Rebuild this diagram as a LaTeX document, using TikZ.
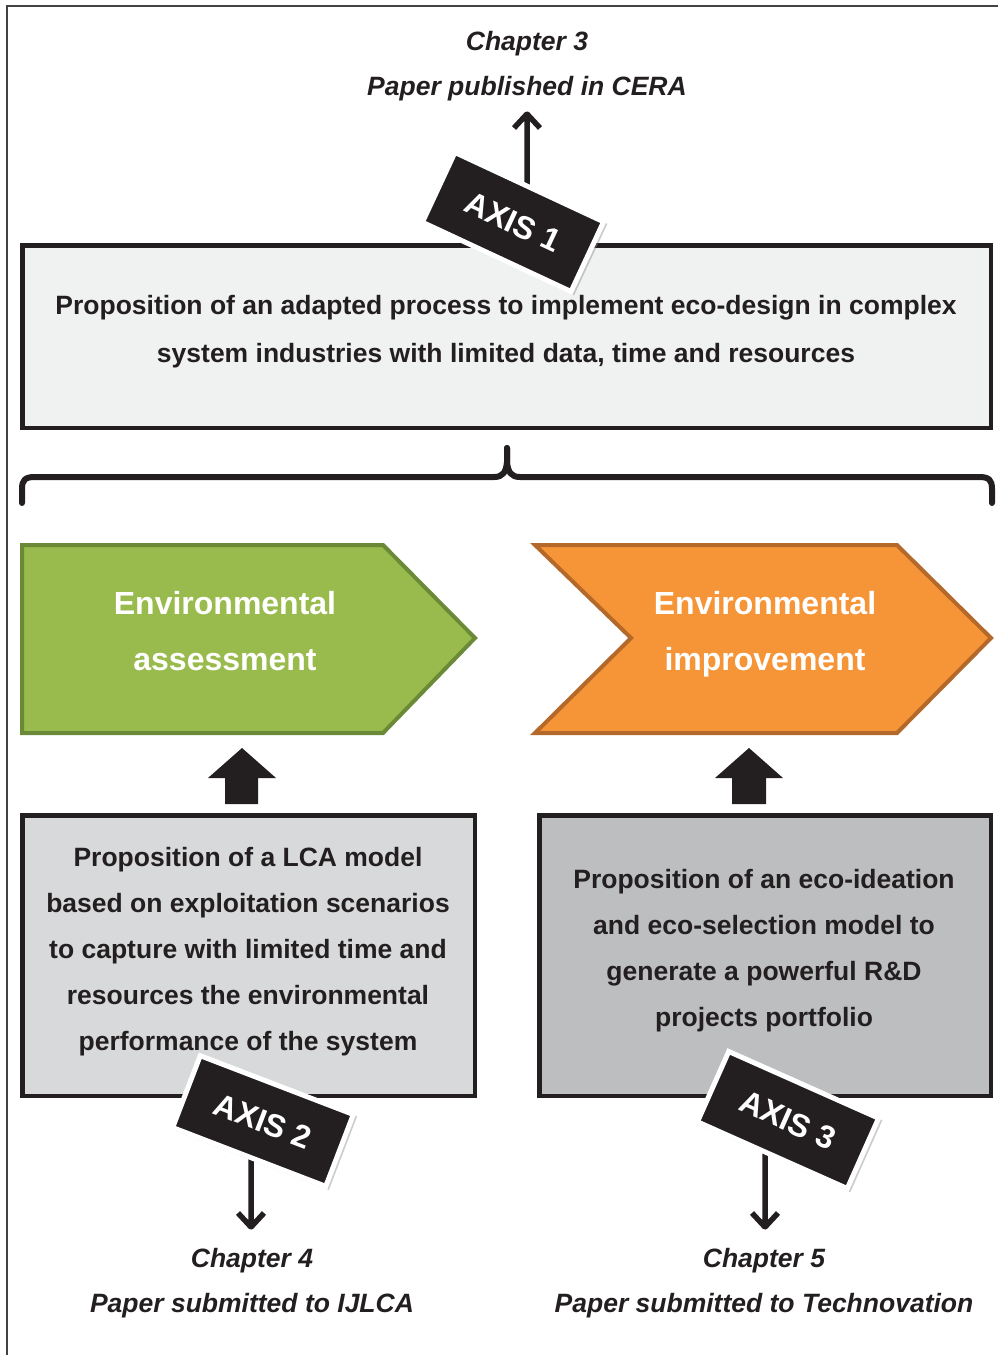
\documentclass[tikz,border=0pt]{standalone}
\usepackage{fontspec}
\setmainfont{Liberation Sans}
\usetikzlibrary{arrows.meta,shadows}
\definecolor{ink}{HTML}{231F20}
\definecolor{topfill}{HTML}{F0F1F1}
\definecolor{lfill}{HTML}{D8D9DA}
\definecolor{rfill}{HTML}{BDBEC0}
\definecolor{gfill}{HTML}{99BA4C}
\definecolor{gline}{HTML}{6B8A37}
\definecolor{ofill}{HTML}{F59537}
\definecolor{oline}{HTML}{B4692A}
\begin{document}
\begin{tikzpicture}[x=1pt,y=-1pt,
 box/.style={draw=ink,line width=4.5pt,inner sep=0pt},
 bodytext/.style={font=\bfseries\fontsize{26.5}{46}\selectfont, text=ink, align=center, inner sep=0pt},
 toptext/.style={font=\bfseries\fontsize{26.5}{48}\selectfont, text=ink, align=center, inner sep=0pt},
 chevtext/.style={font=\bfseries\fontsize{32}{56}\selectfont, text=white, align=center, inner sep=0pt},
 chaptext/.style={font=\bfseries\itshape\fontsize{26.5}{45.5}\selectfont, text=ink, align=center, inner sep=0pt},
 tag/.style={fill=ink, draw=white, line width=5pt, minimum width=164pt, minimum height=77pt, text=white, font=\bfseries\fontsize{32}{32}\selectfont, inner sep=0pt, drop shadow={opacity=0.4, shadow xshift=1.5pt, shadow yshift=-2pt, shadow scale=1.025}},
 pointer/.style={draw=ink, line width=5.5pt, line join=round, line cap=butt},
 blockarrow/.style={fill=ink},
 brace/.style={draw=ink, line width=6pt, line join=round, line cap=round},
]
\useasboundingbox (0,0) rectangle (998,1355);
% outer frame
\draw[ink!85, line width=2pt] (7,1355) -- (7,6) -- (998,6);

% chapter 3
\node[chaptext] (ch3) at (527,66) {Chapter 3\\Paper published in CERA};

% main box
\node[box, fill=topfill, minimum width=968.5pt, minimum height=182.5pt] (main) at (506.5,336.5) {};
\node[toptext] (maintext) at (506,332) {Proposition of an adapted process to implement eco-design in complex\\system industries with limited data, time and resources};

% arrow to chapter 3 and tag
\coordinate (a1s) at (527,195);
\coordinate (a1e) at (527,114);
\draw[pointer] (a1s) -- (a1e) -- ++(-13,14) (a1e) -- ++(13,14);
\node[tag, rotate=-25] (ax1) at (513,222) {AXIS 1};

% brace
\coordinate (brL) at (22,503);
\coordinate (brR) at (992,503);
\coordinate (brT) at (507,448);
\draw[brace] (brL) -- (22,489) .. controls (22,480) and (25,477) .. (35,477) -- (494,477) .. controls (503,477) and (506,472) .. (507,462) -- (brT);
\draw[brace] (brR) -- (992,489) .. controls (992,480) and (989,477) .. (979,477) -- (520,477) .. controls (511,477) and (508,472) .. (507,462) -- (brT);

% chevrons
\draw[fill=gfill, draw=gline, line width=4pt, line join=miter] (22,545) -- (383,545) -- (475,638) -- (383,733) -- (22,733) -- cycle;
\node[chevtext] (envA) at (225,631) {Environmental\\assessment};
\draw[fill=ofill, draw=oline, line width=4pt, line join=miter] (535,545) -- (897,545) -- (991,638) -- (897,733) -- (535,733) -- (631,638) -- cycle;
\node[chevtext] (envI) at (765,634) {Environmental\\improvement};

% block arrows
\fill[blockarrow] (242,748) -- (276,778) -- (258,778) -- (258,804) -- (225,804) -- (225,778) -- (208,778) -- cycle;
\fill[blockarrow] (749,748) -- (783,778) -- (766,778) -- (766,804) -- (732,804) -- (732,778) -- (715,778) -- cycle;

% bottom boxes
\node[box, fill=lfill, minimum width=452.5pt, minimum height=280.5pt] (lca) at (248.5,955.5) {};
\node[bodytext] (lcatext) at (248,951.5) {Proposition of a LCA model\\based on exploitation scenarios\\to capture with limited time and\\resources the environmental\\performance of the system};
\node[box, fill=rfill, minimum width=451.5pt, minimum height=280.5pt] (eco) at (765,955.5) {};
\node[bodytext] (ecotext) at (764,951) {Proposition of an eco-ideation\\and eco-selection model to\\generate a powerful R\&D\\projects portfolio};

% arrows down and tags
\coordinate (a2s) at (251,1150);
\coordinate (a2e) at (251,1227);
\draw[pointer] (a2s) -- (a2e) -- ++(-13,-14) (a2e) -- ++(13,-14);
\coordinate (a3s) at (765,1150);
\coordinate (a3e) at (765,1227);
\draw[pointer] (a3s) -- (a3e) -- ++(-13,-14) (a3e) -- ++(13,-14);
\node[tag, rotate=-21] (ax2) at (263,1121) {AXIS 2};
\node[tag, rotate=-24] (ax3) at (788,1120) {AXIS 3};

% chapters 4 and 5
\node[chaptext] (ch4) at (252,1283) {Chapter 4\\Paper submitted to IJLCA};
\node[chaptext] (ch5) at (764,1283) {Chapter 5\\Paper submitted to Technovation};
\end{tikzpicture}
\end{document}
